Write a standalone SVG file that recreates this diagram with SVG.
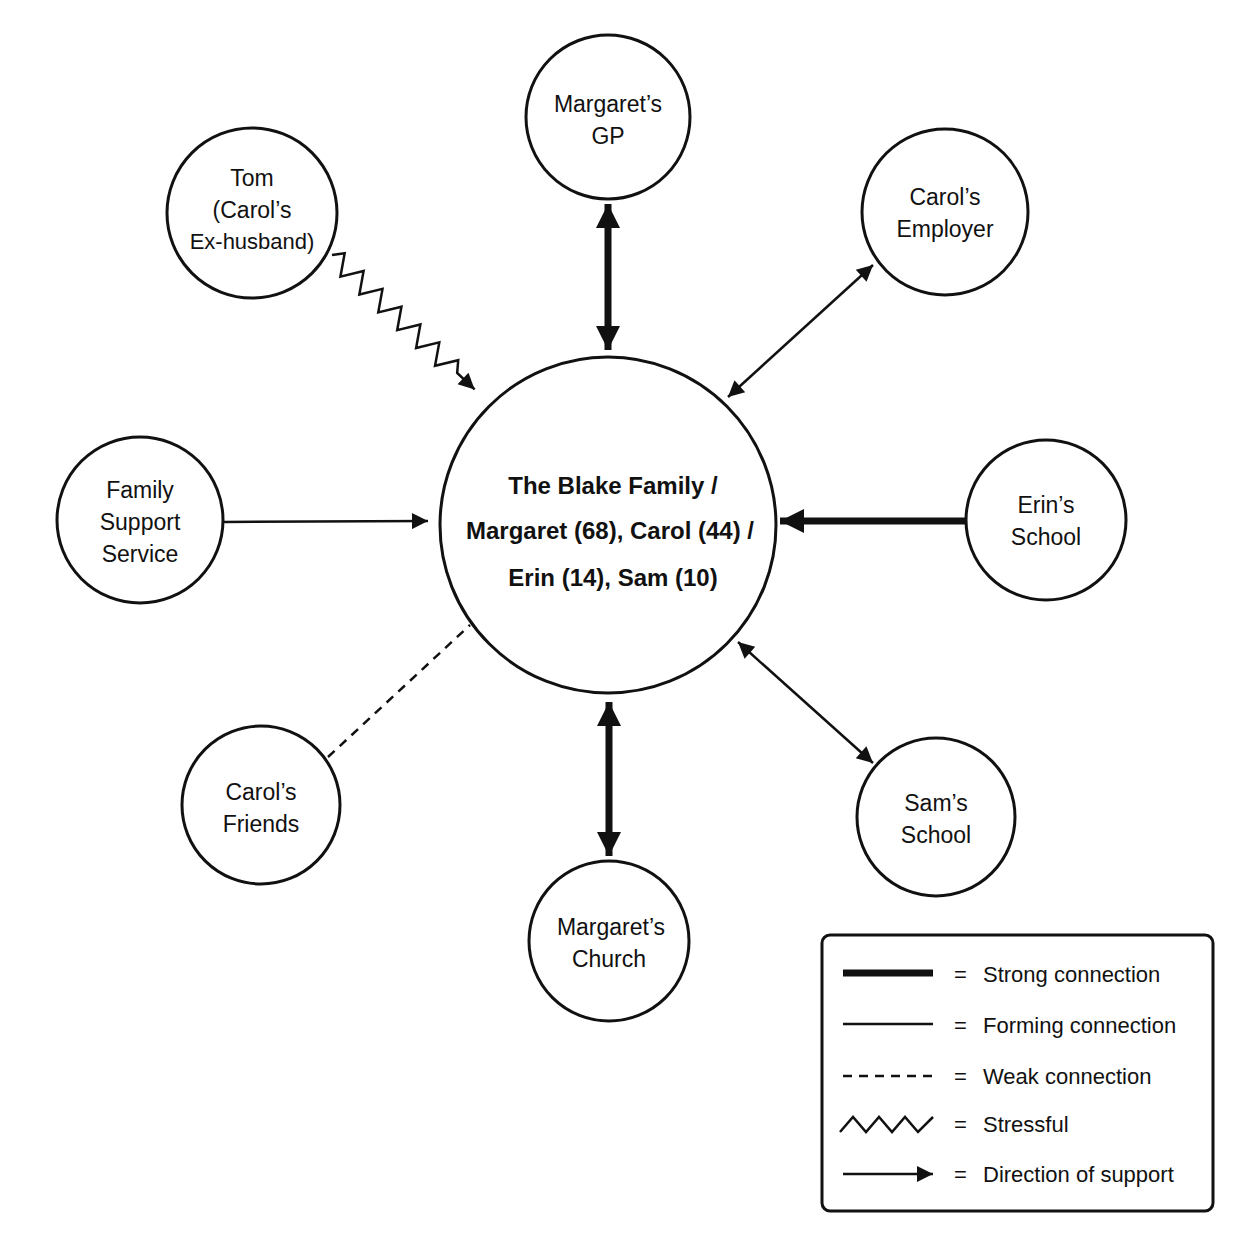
<svg xmlns="http://www.w3.org/2000/svg" width="1254" height="1254" viewBox="0 0 1254 1254">
<style>
.n{fill:#fff;stroke:#111;stroke-width:3}
.t{font-family:"Liberation Sans",Arial,sans-serif;font-size:23px;fill:#111;text-anchor:middle}
.c{font-weight:bold;font-size:24px}
.thin{stroke:#111;stroke-width:2.5;fill:none}
.thick{stroke:#111;stroke-width:7;fill:none}
.lg{font-family:"Liberation Sans",Arial,sans-serif;font-size:22px;fill:#111}
</style>
<defs>
<marker id="a" viewBox="0 0 10 10" refX="10" refY="5" markerWidth="18" markerHeight="16" markerUnits="userSpaceOnUse" orient="auto-start-reverse"><path d="M0 0L10 5L0 10z" fill="#111"/></marker>
<marker id="A" viewBox="0 0 10 10" refX="10" refY="5" markerWidth="26" markerHeight="24" markerUnits="userSpaceOnUse" orient="auto-start-reverse"><path d="M0 0L10 5L0 10z" fill="#111"/></marker>
</defs>
<rect width="1254" height="1254" fill="#fff"/>
<g id="connectors">
<line class="thick" x1="608" y1="204" x2="608" y2="350" marker-start="url(#A)" marker-end="url(#A)"/>
<line class="thin" x1="873" y1="265" x2="728" y2="397" marker-start="url(#a)" marker-end="url(#a)"/>
<polyline class="thin" transform="translate(332,255) rotate(43.3)" points="0,0 8,-10 21,10 34,-10 47,10 60,-10 73,10 86,-10 99,10 112,-10 125,10 138,-10 151,10 164,-10 172,0 196,0" marker-end="url(#a)"/>
<line class="thin" x1="224" y1="522" x2="428" y2="521" marker-end="url(#a)"/>
<line class="thick" x1="966" y1="521" x2="780" y2="521" marker-end="url(#A)"/>
<line class="thin" x1="328" y1="757" x2="470" y2="625" stroke-dasharray="9,7"/>
<line class="thin" x1="873" y1="763" x2="738" y2="642" marker-start="url(#a)" marker-end="url(#a)"/>
<line class="thick" x1="609" y1="702" x2="609" y2="856" marker-start="url(#A)" marker-end="url(#A)"/>
</g>
<g id="center"><circle class="n" cx="608" cy="525" r="168"/>
<text class="t c" x="613" y="494">The Blake Family /</text>
<text class="t c" x="610" y="539">Margaret (68), Carol (44) /</text>
<text class="t c" x="613" y="586">Erin (14), Sam (10)</text></g>
<g id="gp"><circle class="n" cx="608" cy="117" r="82"/><text class="t" x="608" y="112">Margaret’s</text><text class="t" x="608" y="144">GP</text></g>
<g id="employer"><circle class="n" cx="945" cy="212" r="83"/><text class="t" x="945" y="205">Carol’s</text><text class="t" x="945" y="237">Employer</text></g>
<g id="tom"><circle class="n" cx="252" cy="213" r="85"/><text class="t" x="252" y="186">Tom</text><text class="t" x="252" y="218">(Carol’s</text><text class="t" x="252" y="249" style="font-size:22px">Ex-husband)</text></g>
<g id="fss"><circle class="n" cx="140" cy="520" r="83"/><text class="t" x="140" y="498">Family</text><text class="t" x="140" y="530">Support</text><text class="t" x="140" y="562">Service</text></g>
<g id="erin"><circle class="n" cx="1046" cy="520" r="80"/><text class="t" x="1046" y="513">Erin’s</text><text class="t" x="1046" y="545">School</text></g>
<g id="friends"><circle class="n" cx="261" cy="805" r="79"/><text class="t" x="261" y="800">Carol’s</text><text class="t" x="261" y="832">Friends</text></g>
<g id="sam"><circle class="n" cx="936" cy="817" r="79"/><text class="t" x="936" y="811">Sam’s</text><text class="t" x="936" y="843">School</text></g>
<g id="church"><circle class="n" cx="609" cy="941" r="80"/><text class="t" x="611" y="935">Margaret’s</text><text class="t" x="609" y="967">Church</text></g>
<g id="legend">
<rect x="822" y="935" width="391" height="276" rx="8" fill="#fff" stroke="#111" stroke-width="3"/>
<line class="thick" x1="843" y1="973" x2="933" y2="973"/>
<line class="thin" x1="843" y1="1024" x2="933" y2="1024"/>
<line class="thin" x1="843" y1="1076" x2="933" y2="1076" stroke-dasharray="9,7"/>
<polyline class="thin" points="840,1132 853,1117 866,1132 879,1117 892,1132 905,1117 918,1132 933,1117"/>
<line class="thin" x1="843" y1="1174" x2="933" y2="1174" marker-end="url(#a)"/>
<text class="lg" x="954" y="982">=</text><text class="lg" x="983" y="982">Strong connection</text>
<text class="lg" x="954" y="1033">=</text><text class="lg" x="983" y="1033">Forming connection</text>
<text class="lg" x="954" y="1084">=</text><text class="lg" x="983" y="1084">Weak connection</text>
<text class="lg" x="954" y="1132">=</text><text class="lg" x="983" y="1132">Stressful</text>
<text class="lg" x="954" y="1182">=</text><text class="lg" x="983" y="1182">Direction of support</text>
</g>
</svg>
